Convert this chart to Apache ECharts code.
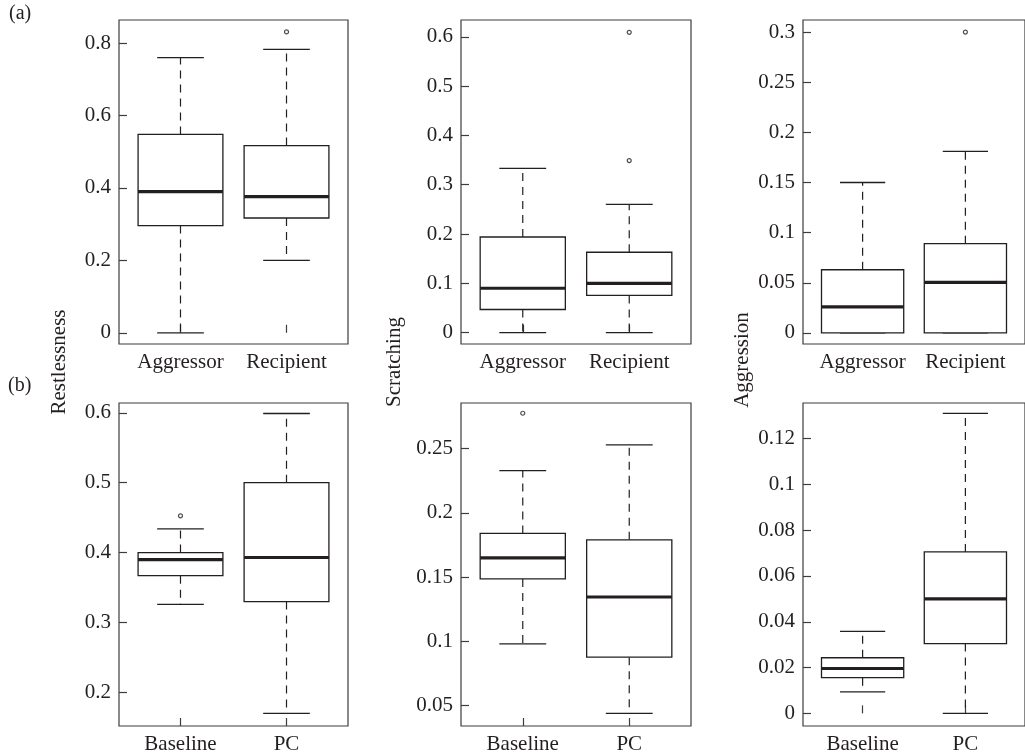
<!DOCTYPE html>
<html>
<head>
<meta charset="utf-8">
<script src="https://cdn.jsdelivr.net/npm/echarts@6/dist/echarts.min.js"></script>
<style>
html,body{margin:0;padding:0;background:#fff;}
#chart{width:1025px;height:755px;}
</style>
</head>
<body>
<div id="chart"></div>
<script>
// ---- Data ----
const categoriesA = ['Aggressor', 'Recipient'];
const categoriesB = ['Baseline', 'PC'];

// each box: [lowerWhisker, Q1, median, Q3, upperWhisker]
const restlessnessA = [[0.000, 0.296, 0.390, 0.548, 0.760], [0.200, 0.317, 0.376, 0.517, 0.783]];
const scratchingA   = [[0.000, 0.047, 0.090, 0.194, 0.333], [0.000, 0.0755, 0.100, 0.163, 0.260]];
const aggressionA   = [[0.000, 0.000, 0.026, 0.063, 0.150], [0.000, 0.000, 0.0505, 0.089, 0.181]];
const restlessnessB = [[0.326, 0.367, 0.390, 0.400, 0.434], [0.170, 0.330, 0.393, 0.500, 0.599]];
const scratchingB   = [[0.098, 0.1486, 0.165, 0.184, 0.233], [0.0438, 0.0876, 0.1345, 0.179, 0.253]];
const aggressionB   = [[0.0094, 0.0156, 0.0196, 0.0243, 0.0358], [0.000, 0.0305, 0.050, 0.0705, 0.131]];

// outliers: [categoryIndex (1-based), value]
const restlessnessAOut = [[2, 0.831]];
const scratchingAOut   = [[2, 0.609], [2, 0.349]];
const aggressionAOut   = [[2, 0.300]];
const restlessnessBOut = [[1, 0.4526]];
const scratchingBOut   = [[1, 0.2776]];
const aggressionBOut   = [];

// tick values
const ticksRestA = [0, 0.2, 0.4, 0.6, 0.8];
const ticksScrA  = [0, 0.1, 0.2, 0.3, 0.4, 0.5, 0.6];
const ticksAggA  = [0, 0.05, 0.1, 0.15, 0.2, 0.25, 0.3];
const ticksRestB = [0.2, 0.3, 0.4, 0.5, 0.6];
const ticksScrB  = [0.05, 0.1, 0.15, 0.2, 0.25];
const ticksAggB  = [0, 0.02, 0.04, 0.06, 0.08, 0.1, 0.12];

// axis ranges
const rangesY = [[-0.031, 0.864], [-0.023, 0.634], [-0.011, 0.312], [0.152, 0.614], [0.034, 0.2856], [-0.0055, 0.1355]];

const yTitles = ['Restlessness', 'Scratching', 'Aggression'];

// ---- Layout ----
const FONT = '"Liberation Serif", "DejaVu Serif", serif';
const INK = '#231f20';
const FRAME = '#3c3c3c';
const panels = [
  {box: restlessnessA, out: restlessnessAOut, ticks: ticksRestA, cats: categoriesA, left: 119, top: 20, width: 229, height: 324},
  {box: scratchingA,   out: scratchingAOut,   ticks: ticksScrA,  cats: categoriesA, left: 461, top: 20, width: 230, height: 324},
  {box: aggressionA,   out: aggressionAOut,   ticks: ticksAggA,  cats: categoriesA, left: 803, top: 20, width: 230, height: 324},
  {box: restlessnessB, out: restlessnessBOut, ticks: ticksRestB, cats: categoriesB, left: 119, top: 403, width: 229, height: 325},
  {box: scratchingB,   out: scratchingBOut,   ticks: ticksScrB,  cats: categoriesB, left: 461, top: 403, width: 230, height: 325},
  {box: aggressionB,   out: aggressionBOut,   ticks: ticksAggB,  cats: categoriesB, left: 803, top: 403, width: 230, height: 325}
];

const grids = [], xAxes = [], yAxes = [], series = [];
panels.forEach(function (p, i) {
  grids.push({left: p.left, top: p.top, width: p.width, height: p.height, show: true,
    borderColor: FRAME, borderWidth: 1.2, backgroundColor: 'transparent', containLabel: false});
  const cats = p.cats;
  xAxes.push({
    type: 'value', gridIndex: i, min: 0.42, max: 2.58,
    axisLine: {show: false}, splitLine: {show: false},
    axisTick: {show: true, inside: true, length: 8, customValues: [1, 2], lineStyle: {color: FRAME, width: 1.2}},
    axisLabel: {show: true, customValues: [1, 2], margin: 8, color: INK, fontFamily: FONT, fontSize: 21,
      formatter: function (v) { return cats[Math.round(v) - 1] || ''; }}
  });
  yAxes.push({
    type: 'value', gridIndex: i, min: rangesY[i][0], max: rangesY[i][1],
    axisLine: {show: false}, splitLine: {show: false},
    axisTick: {show: true, inside: true, length: 8, customValues: p.ticks, lineStyle: {color: FRAME, width: 1.2}},
    axisLabel: {show: true, customValues: p.ticks, margin: 8, color: INK, fontFamily: FONT, fontSize: 21,
      formatter: function (v) { return String(+v.toFixed(4)); }}
  });
  series.push({
    type: 'custom', xAxisIndex: i, yAxisIndex: i,
    data: p.box.map(function (b, k) { return [k + 1].concat(b); }),
    encode: {x: 0, y: [1, 2, 3, 4, 5]},
    renderItem: function (params, api) {
      const x = api.value(0);
      const lo = api.value(1), q1 = api.value(2), md = api.value(3), q3 = api.value(4), hi = api.value(5);
      const pLo = api.coord([x, lo]), pQ1 = api.coord([x, q1]), pMd = api.coord([x, md]);
      const pQ3 = api.coord([x, q3]), pHi = api.coord([x, hi]);
      const halfBox = api.size([0.4, 0])[0];
      const halfCap = api.size([0.22, 0])[0];
      const cx = pMd[0];
      const solid = {stroke: INK, lineWidth: 1.3, fill: null};
      const dashed = {stroke: INK, lineWidth: 1.2, lineDash: [8, 6], fill: null};
      const children = [
        {type: 'line', shape: {x1: cx, y1: pQ3[1], x2: cx, y2: pHi[1]}, style: dashed},
        {type: 'line', shape: {x1: cx, y1: pQ1[1], x2: cx, y2: pLo[1]}, style: dashed},
        {type: 'line', shape: {x1: cx - halfCap, y1: pHi[1], x2: cx + halfCap, y2: pHi[1]}, style: solid},
        {type: 'line', shape: {x1: cx - halfCap, y1: pLo[1], x2: cx + halfCap, y2: pLo[1]}, style: solid},
        {type: 'rect', shape: {x: cx - halfBox, y: pQ3[1], width: 2 * halfBox, height: pQ1[1] - pQ3[1]},
          style: {stroke: INK, lineWidth: 1.3, fill: '#fff'}},
        {type: 'line', shape: {x1: cx - halfBox, y1: pMd[1], x2: cx + halfBox, y2: pMd[1]},
          style: {stroke: INK, lineWidth: 3.2}}
      ];
      return {type: 'group', children: children};
    },
    silent: true, animation: false
  });
  series.push({
    type: 'scatter', xAxisIndex: i, yAxisIndex: i, data: p.out,
    symbol: 'circle', symbolSize: 4,
    itemStyle: {color: '#fff', borderColor: INK, borderWidth: 1.2},
    silent: true, animation: false
  });
});

const graphics = [
  {type: 'text', left: 9, top: 4, style: {text: '(a)', font: '20px ' + FONT, fill: INK}},
  {type: 'text', left: 8, top: 376, style: {text: '(b)', font: '20px ' + FONT, fill: INK}}
];
const titleX = [59, 394, 742];
const titleY = [362, 362, 360];
yTitles.forEach(function (t, i) {
  graphics.push({type: 'text', x: titleX[i], y: titleY[i], rotation: Math.PI / 2,
    style: {text: t, font: '21px ' + FONT, fill: INK, align: 'center', verticalAlign: 'middle'}});
});

const chart = echarts.init(document.getElementById('chart'), null, {renderer: 'canvas'});
chart.setOption({
  animation: false,
  backgroundColor: '#fff',
  grid: grids, xAxis: xAxes, yAxis: yAxes, series: series,
  graphic: graphics
});
</script>
</body>
</html>
